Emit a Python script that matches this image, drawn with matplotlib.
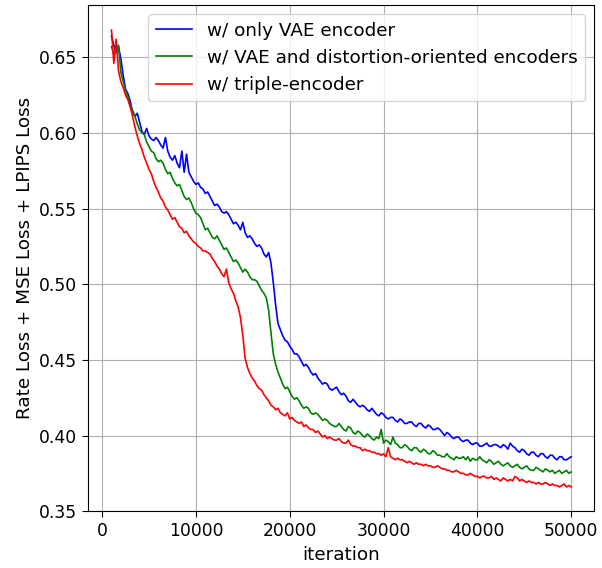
import matplotlib
matplotlib.use("Agg")
import matplotlib.pyplot as plt
import numpy as np

# one logged point every 250 iterations, 1000 .. 50000
iterations = np.arange(1000, 50001, 250)

vae_only = [
    0.664, 0.658, 0.653, 0.657, 0.649, 0.638, 0.629, 0.626, 0.621, 0.614,
    0.611, 0.613, 0.607, 0.601, 0.599, 0.603, 0.598, 0.596, 0.595, 0.597,
    0.595, 0.592, 0.590, 0.597, 0.588, 0.584, 0.582, 0.585, 0.580, 0.577,
    0.588, 0.574, 0.586, 0.574, 0.571, 0.568, 0.566, 0.567, 0.564, 0.563,
    0.560, 0.561, 0.558, 0.555, 0.552, 0.553, 0.551, 0.548, 0.547, 0.548,
    0.546, 0.543, 0.540, 0.541, 0.539, 0.536, 0.541, 0.534, 0.531, 0.532,
    0.530, 0.527, 0.525, 0.526, 0.524, 0.520, 0.518, 0.521, 0.514, 0.501,
    0.486, 0.474, 0.470, 0.466, 0.463, 0.462, 0.459, 0.457, 0.454, 0.454,
    0.452, 0.449, 0.446, 0.447, 0.445, 0.442, 0.440, 0.441, 0.438, 0.436,
    0.434, 0.435, 0.434, 0.431, 0.430, 0.431, 0.432, 0.429, 0.427, 0.428,
    0.426, 0.423, 0.422, 0.424, 0.422, 0.420, 0.419, 0.420, 0.419, 0.417,
    0.416, 0.418, 0.416, 0.414, 0.413, 0.415, 0.414, 0.412, 0.411, 0.412,
    0.412, 0.410, 0.409, 0.411, 0.410, 0.408, 0.408, 0.409, 0.409, 0.407,
    0.406, 0.408, 0.408, 0.406, 0.405, 0.407, 0.406, 0.404, 0.404, 0.405,
    0.404, 0.402, 0.400, 0.402, 0.401, 0.399, 0.398, 0.399, 0.399, 0.397,
    0.396, 0.397, 0.397, 0.395, 0.394, 0.395, 0.395, 0.393, 0.393, 0.394,
    0.395, 0.393, 0.393, 0.394, 0.394, 0.393, 0.392, 0.394, 0.393, 0.391,
    0.395, 0.393, 0.392, 0.390, 0.389, 0.391, 0.390, 0.388, 0.387, 0.389,
    0.389, 0.387, 0.386, 0.388, 0.388, 0.386, 0.385, 0.387, 0.387, 0.385,
    0.384, 0.386, 0.386, 0.384, 0.384, 0.385, 0.386,
]

vae_distortion = [
    0.657, 0.652, 0.655, 0.658, 0.640, 0.634, 0.628, 0.624, 0.618, 0.615,
    0.611, 0.606, 0.602, 0.600, 0.599, 0.594, 0.591, 0.588, 0.587, 0.583,
    0.581, 0.582, 0.580, 0.576, 0.573, 0.574, 0.570, 0.567, 0.565, 0.566,
    0.562, 0.558, 0.556, 0.557, 0.554, 0.550, 0.547, 0.546, 0.544, 0.540,
    0.536, 0.537, 0.534, 0.531, 0.530, 0.532, 0.529, 0.526, 0.523, 0.524,
    0.521, 0.518, 0.515, 0.516, 0.514, 0.511, 0.508, 0.510, 0.508, 0.505,
    0.503, 0.503, 0.502, 0.499, 0.496, 0.494, 0.491, 0.483, 0.468, 0.454,
    0.447, 0.442, 0.438, 0.434, 0.431, 0.432, 0.429, 0.426, 0.424, 0.425,
    0.423, 0.420, 0.418, 0.419, 0.418, 0.415, 0.414, 0.415, 0.414, 0.412,
    0.410, 0.411, 0.410, 0.408, 0.407, 0.406, 0.406, 0.408, 0.406, 0.404,
    0.403, 0.406, 0.405, 0.402, 0.401, 0.403, 0.402, 0.400, 0.399, 0.401,
    0.400, 0.398, 0.397, 0.399, 0.398, 0.404, 0.395, 0.397, 0.396, 0.394,
    0.399, 0.395, 0.394, 0.392, 0.392, 0.394, 0.393, 0.391, 0.390, 0.392,
    0.392, 0.390, 0.389, 0.391, 0.390, 0.388, 0.388, 0.390, 0.389, 0.387,
    0.387, 0.386, 0.386, 0.388, 0.386, 0.385, 0.384, 0.386, 0.385, 0.385,
    0.386, 0.384, 0.386, 0.383, 0.385, 0.384, 0.384, 0.386, 0.384, 0.383,
    0.382, 0.384, 0.383, 0.381, 0.382, 0.383, 0.381, 0.380, 0.381, 0.382,
    0.380, 0.379, 0.380, 0.381, 0.379, 0.378, 0.379, 0.380, 0.378, 0.377,
    0.377, 0.379, 0.378, 0.377, 0.376, 0.378, 0.377, 0.376, 0.377, 0.375,
    0.376, 0.377, 0.375, 0.376, 0.377, 0.375, 0.376,
]

triple = [
    0.668, 0.646, 0.662, 0.641, 0.634, 0.630, 0.625, 0.622, 0.617, 0.611,
    0.604, 0.598, 0.593, 0.589, 0.584, 0.580, 0.576, 0.573, 0.568, 0.564,
    0.561, 0.557, 0.555, 0.551, 0.549, 0.546, 0.543, 0.544, 0.541, 0.538,
    0.537, 0.534, 0.535, 0.532, 0.530, 0.528, 0.527, 0.525, 0.524, 0.522,
    0.522, 0.521, 0.520, 0.517, 0.515, 0.512, 0.510, 0.507, 0.505, 0.510,
    0.501, 0.497, 0.494, 0.489, 0.485, 0.478, 0.466, 0.451, 0.445, 0.441,
    0.438, 0.436, 0.433, 0.431, 0.430, 0.427, 0.425, 0.423, 0.420, 0.419,
    0.417, 0.418, 0.415, 0.414, 0.413, 0.415, 0.411, 0.412, 0.410, 0.409,
    0.408, 0.409, 0.406, 0.407, 0.405, 0.404, 0.404, 0.402, 0.403, 0.401,
    0.399, 0.400, 0.398, 0.399, 0.398, 0.397, 0.397, 0.398, 0.396, 0.395,
    0.395, 0.397, 0.394, 0.393, 0.393, 0.392, 0.392, 0.390, 0.391, 0.390,
    0.390, 0.389, 0.389, 0.388, 0.388, 0.387, 0.388, 0.386, 0.392, 0.386,
    0.385, 0.384, 0.385, 0.384, 0.384, 0.383, 0.382, 0.383, 0.382, 0.381,
    0.382, 0.381, 0.381, 0.380, 0.381, 0.380, 0.380, 0.379, 0.379, 0.380,
    0.379, 0.378, 0.378, 0.377, 0.377, 0.376, 0.376, 0.377, 0.376, 0.375,
    0.375, 0.374, 0.374, 0.375, 0.374, 0.373, 0.373, 0.372, 0.373, 0.373,
    0.372, 0.372, 0.373, 0.371, 0.372, 0.371, 0.370, 0.372, 0.371, 0.370,
    0.371, 0.370, 0.373, 0.372, 0.370, 0.371, 0.370, 0.369, 0.370, 0.369,
    0.369, 0.368, 0.369, 0.368, 0.368, 0.369, 0.368, 0.367, 0.368, 0.367,
    0.367, 0.366, 0.367, 0.368, 0.366, 0.367, 0.366,
]

fig = plt.figure(figsize=(6.02, 5.68), dpi=100)
ax = fig.add_axes([0.147, 0.100, 0.840, 0.891])

ax.plot(iterations, vae_only, color='blue', linewidth=1.2, label='w/ only VAE encoder')
ax.plot(iterations, vae_distortion, color='green', linewidth=1.2,
        label='w/ VAE and distortion-oriented encoders')
ax.plot(iterations, triple, color='red', linewidth=1.2, label='w/ triple-encoder')

ax.set_ylim(0.35, 0.6845)
ax.set_yticks([0.35, 0.40, 0.45, 0.50, 0.55, 0.60, 0.65])
ax.set_xlabel('iteration', fontsize=13.2)
ax.set_ylabel('Rate Loss + MSE Loss + LPIPS Loss', fontsize=13.2)
ax.tick_params(labelsize=12.3, length=4.5)
ax.grid(True)
ax.legend(loc='upper right', fontsize=13.2)

fig.savefig('out.png', dpi=100)
